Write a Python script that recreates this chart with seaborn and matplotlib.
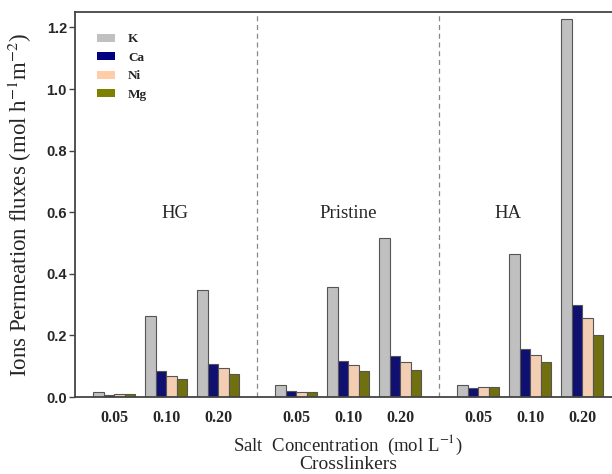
import numpy as np
import pandas as pd
import matplotlib
matplotlib.use("Agg")
import matplotlib.pyplot as plt
import seaborn as sns
from matplotlib.patches import Patch

concentrations = ['0.05', '0.10', '0.20']
crosslinkers = ['HG', 'Pristine', 'HA']
ions = ['K', 'Ca', 'Ni', 'Mg']

# one value per (crosslinker, concentration): HG 0.05/0.10/0.20, Pristine ..., HA ...
K = [0.016, 0.264, 0.346, 0.040, 0.357, 0.515, 0.039, 0.466, 1.226]
Ca = [0.007, 0.083, 0.106, 0.020, 0.116, 0.132, 0.029, 0.155, 0.298]
Ni = [0.009, 0.068, 0.093, 0.015, 0.105, 0.113, 0.031, 0.138, 0.255]
Mg = [0.009, 0.059, 0.075, 0.016, 0.085, 0.089, 0.032, 0.113, 0.200]

colors = ['#c0c0c0', '#000080', '#ffcca8', '#808000']

series = {'K': K, 'Ca': Ca, 'Ni': Ni, 'Mg': Mg}
rows = []
for ion in ions:
    k = 0
    for j, cl in enumerate(crosslinkers):
        for i, c in enumerate(concentrations):
            rows.append({'pos': j * 3.5 + i, 'conc': c, 'crosslinker': cl,
                         'ion': ion, 'flux': series[ion][k]})
            k += 1
df = pd.DataFrame(rows)

sns.set_style("white")
plt.rcParams['mathtext.fontset'] = 'stix'
fig = plt.figure(figsize=(6.12, 4.74), dpi=100)
ax = fig.add_axes([0.123, 0.1624, 0.892, 0.8122])

sns.barplot(data=df, x='pos', y='flux', hue='ion', hue_order=ions,
            palette=colors, native_scale=True, width=0.8, dodge=True,
            edgecolor='#555555', linewidth=0.8, ax=ax, legend=False)

ax.set_xlim(-0.75, 9.75)
ax.set_ylim(0, 1.25)

# section separators
for xv in [2.75, 6.25]:
    ax.axvline(xv, color='#888888', ls=(0, (4, 3)), lw=0.9)

# section names
for xv, name in zip([1.17, 4.49, 7.57], crosslinkers):
    ax.text(xv, 0.597, name, ha='center', va='center',
            family='Liberation Serif', fontsize=13.5)

pos = sorted(df['pos'].unique())
ax.set_xticks(pos)
ax.set_xticklabels(concentrations * 3, family='Liberation Serif',
                   fontweight='bold', fontsize=11.5)
ax.tick_params(axis='x', length=0, pad=9)
ax.set_yticks(np.arange(0, 1.21, 0.2))
ax.set_yticklabels([f'{v:.1f}' for v in np.arange(0, 1.21, 0.2)],
                   family='Liberation Sans', fontweight='bold', fontsize=10.5)
ax.tick_params(axis='y', direction='out', length=4, width=1, color='#444444',
               left=True, pad=2)

for s in ['left', 'top', 'bottom']:
    ax.spines[s].set_color('#444444')
    ax.spines[s].set_linewidth(1.3)
ax.spines['right'].set_visible(False)

ax.set_ylabel('Ions Permeation fluxes (mol h$^{-1}$m$^{-2}$)',
              family='Liberation Serif', fontsize=16.5)
ax.yaxis.set_label_coords(-0.076, 0.5)
ax.set_xlabel('Salt  Concentration  (mol L$^{-1}$)',
              family='Liberation Serif', fontsize=13.5, labelpad=5)
fig.text(0.569, 0.002, 'Crosslinkers', ha='center', va='bottom',
         family='Liberation Serif', fontsize=14)

handles = [Patch(facecolor=c, edgecolor='none') for c in colors]
ax.legend(handles, ions, loc='upper left', bbox_to_anchor=(0.039, 0.945),
          frameon=False, borderaxespad=0, borderpad=0,
          handlelength=1.4, handleheight=0.55, handletextpad=1.0,
          labelspacing=0.5,
          prop={'family': 'Liberation Serif', 'weight': 'bold', 'size': 9.5})

plt.savefig("out.png", dpi=100)
plt.close()
